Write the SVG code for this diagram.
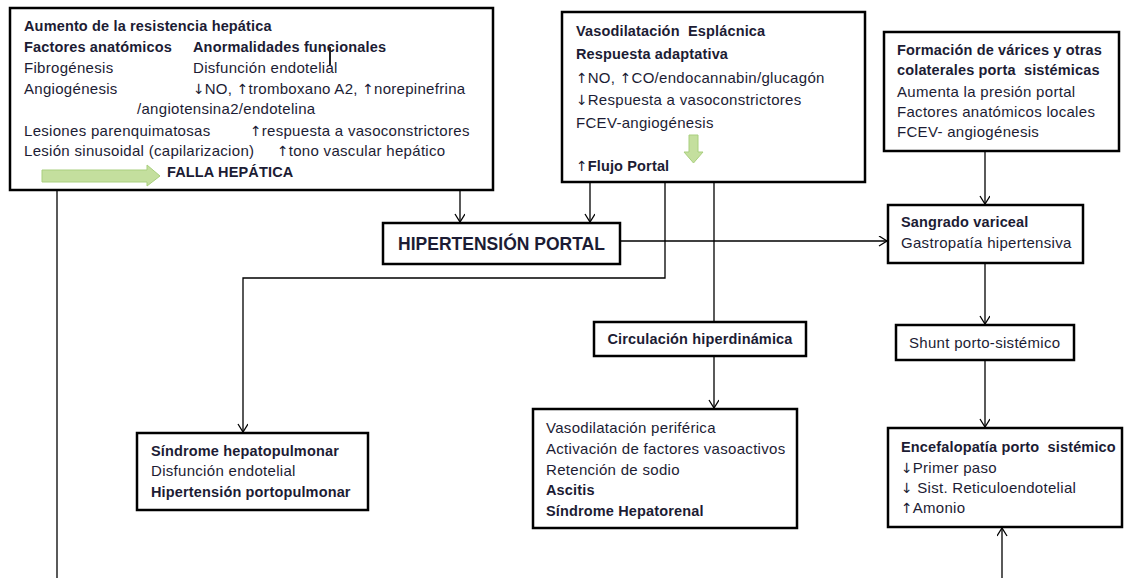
<svg xmlns="http://www.w3.org/2000/svg" width="1126" height="578" viewBox="0 0 1126 578">
<defs>
<style>
text{font-family:"Liberation Sans",Arial,sans-serif;fill:#1c1c34;white-space:pre}
.r{font-size:15px;letter-spacing:0.3px}
.b{font-size:14.5px;font-weight:bold;letter-spacing:0.15px}
.t{font-size:17.5px;font-weight:bold}
.ar{font-family:"DejaVu Sans",sans-serif;font-size:14px;font-weight:normal;letter-spacing:0}
.box{fill:#fff;stroke:#000;stroke-width:2.5}
.c{fill:none;stroke:#000;stroke-width:1.3}
.ga{fill:#c4df9e;stroke:#a9cf7e;stroke-width:1}
</style>
<marker id="ah" markerWidth="12" markerHeight="12" refX="9" refY="5" orient="auto" markerUnits="userSpaceOnUse">
<path d="M1,0 L9,5 L1,10" fill="none" stroke="#000" stroke-width="1.3"/>
</marker>
</defs>
<rect width="1126" height="578" fill="#fff"/>

<g id="connectors">
<line class="c" x1="57" y1="184" x2="57" y2="578"/>
<line class="c" x1="460" y1="190" x2="460" y2="222" marker-end="url(#ah)"/>
<line class="c" x1="590" y1="182" x2="590" y2="222" marker-end="url(#ah)"/>
<line class="c" x1="620" y1="241" x2="887" y2="241" marker-end="url(#ah)"/>
<polyline class="c" points="665,182 665,278 243,278 243,432" marker-end="url(#ah)"/>
<line class="c" x1="714" y1="182" x2="714" y2="322"/>
<line class="c" x1="714" y1="356" x2="714" y2="408" marker-end="url(#ah)"/>
<line class="c" x1="985" y1="152" x2="985" y2="204" marker-end="url(#ah)"/>
<line class="c" x1="985" y1="263" x2="985" y2="324" marker-end="url(#ah)"/>
<line class="c" x1="985" y1="360" x2="985" y2="427" marker-end="url(#ah)"/>
<line class="c" x1="1002" y1="578" x2="1002" y2="528" marker-end="url(#ah)"/>
</g>

<g id="resistencia">
<rect class="box" x="10" y="8" width="483" height="182"/>
<text class="b" x="24" y="31">Aumento de la resistencia hepática</text>
<text class="b" x="24" y="52">Factores anatómicos</text>
<text class="b" x="193" y="52">Anormalidades funcionales</text>
<text class="r" x="24" y="73">Fibrogénesis</text>
<text class="r" x="193" y="73">Disfunción endotelial</text>
<text class="r" x="24" y="94">Angiogénesis</text>
<text class="r" x="193" y="94"><tspan class="ar">↓</tspan>NO, <tspan class="ar">↑</tspan>tromboxano A2, <tspan class="ar">↑</tspan>norepinefrina</text>
<text class="r" x="137" y="114">/angiotensina2/endotelina</text>
<text class="r" x="24" y="136">Lesiones parenquimatosas</text>
<text class="r" x="250" y="136"><tspan class="ar">↑</tspan>respuesta a vasoconstrictores</text>
<text class="r" x="24" y="156">Lesión sinusoidal (capilarizacion)</text>
<text class="r" x="277" y="156"><tspan class="ar">↑</tspan>tono vascular hepático</text>
<text class="b" x="167" y="177">FALLA HEPÁTICA</text>
<path class="ga" d="M42,170 L147,170 L147,165 L160,176 L147,186 L147,182 L42,182 Z"/>
<rect x="329" y="47" width="2" height="18" fill="#222"/>
</g>

<g id="esplacnica">
<rect class="box" x="562" y="12" width="303" height="170"/>
<text class="b" x="576" y="36">Vasodilatación  Esplácnica</text>
<text class="b" x="576" y="59">Respuesta adaptativa</text>
<text class="r" x="576" y="83"><tspan class="ar">↑</tspan>NO, <tspan class="ar">↑</tspan>CO/endocannabin/glucagón</text>
<text class="r" x="576" y="105"><tspan class="ar">↓</tspan>Respuesta a vasoconstrictores</text>
<text class="r" x="576" y="128">FCEV-angiogénesis</text>
<text class="b" x="576" y="171"><tspan class="ar" font-weight="bold">↑</tspan>Flujo Portal</text>
<path class="ga" d="M689,135 L698,135 L698,152 L703,152 L693.5,163 L684,152 L689,152 Z"/>
</g>

<g id="varices">
<rect class="box" x="884" y="32" width="235" height="119"/>
<text class="b" x="897" y="55">Formación de várices y otras</text>
<text class="b" x="897" y="75">colaterales porta  sistémicas</text>
<text class="r" x="897" y="97">Aumenta la presión portal</text>
<text class="r" x="897" y="117">Factores anatómicos locales</text>
<text class="r" x="897" y="137">FCEV- angiogénesis</text>
</g>

<g id="hipertension">
<rect class="box" x="383" y="223" width="237" height="41"/>
<text class="t" x="501.5" y="250" text-anchor="middle">HIPERTENSIÓN PORTAL</text>
</g>

<g id="sangrado">
<rect class="box" x="888" y="205" width="195" height="58"/>
<text class="b" x="901" y="227">Sangrado variceal</text>
<text class="r" x="901" y="248">Gastropatía hipertensiva</text>
</g>

<g id="hepatopulmonar">
<rect class="box" x="137" y="433" width="231" height="77"/>
<text class="b" x="151" y="456">Síndrome hepatopulmonar</text>
<text class="r" x="151" y="476">Disfunción endotelial</text>
<text class="b" x="151" y="497">Hipertensión portopulmonar</text>
</g>

<g id="circulacion">
<rect class="box" x="594" y="322" width="212" height="34"/>
<text class="b" x="700" y="344" text-anchor="middle">Circulación hiperdinámica</text>
</g>

<g id="vasodilatacion">
<rect class="box" x="533" y="409" width="264" height="119"/>
<text class="r" x="546" y="433">Vasodilatación periférica</text>
<text class="r" x="546" y="454">Activación de factores vasoactivos</text>
<text class="r" x="546" y="475">Retención de sodio</text>
<text class="b" x="546" y="495">Ascitis</text>
<text class="b" x="546" y="516">Síndrome Hepatorenal</text>
</g>

<g id="shunt">
<rect class="box" x="896" y="325" width="178" height="35"/>
<text class="r" x="909" y="348">Shunt porto-sistémico</text>
</g>

<g id="encefalopatia">
<rect class="box" x="888" y="428" width="234" height="99"/>
<text class="b" x="901" y="452">Encefalopatía porto  sistémico</text>
<text class="r" x="901" y="473"><tspan class="ar">↓</tspan>Primer paso</text>
<text class="r" x="901" y="493"><tspan class="ar">↓</tspan> Sist. Reticuloendotelial</text>
<text class="r" x="901" y="513"><tspan class="ar">↑</tspan>Amonio</text>
</g>
</svg>
